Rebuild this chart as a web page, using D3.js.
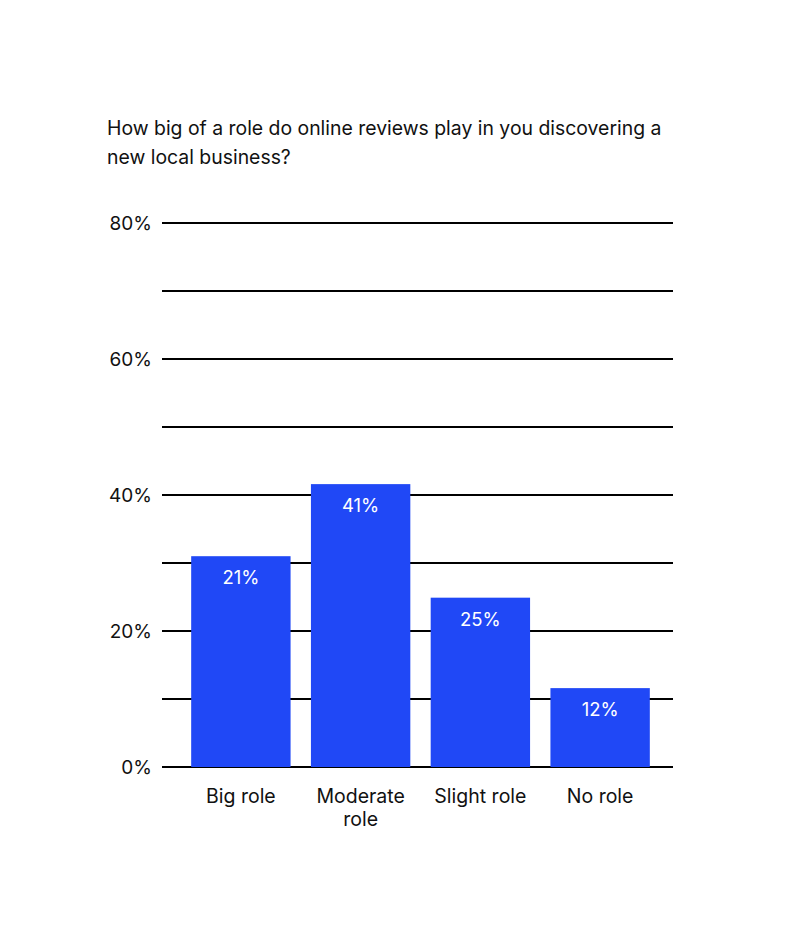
<!DOCTYPE html>
<html>
<head>
<meta charset="utf-8">
<script src="https://cdn.jsdelivr.net/npm/d3@7"></script>
<style>
  body { margin: 0; background: #fff; }
  svg text { font-family: Inter, "Noto Sans", sans-serif; }
</style>
</head>
<body>
<div id="chart"></div>
<script>
const titleLines = ["How big of a role do online reviews play in you discovering a", "new local business?"];
const categories = [["Big role"], ["Moderate", "role"], ["Slight role"], ["No role"]];
const values = [31, 41.6, 24.9, 11.6];
const valueLabels = ["21%", "41%", "25%", "12%"];
const gridTicks = [0, 10, 20, 30, 40, 50, 60, 70, 80];
const tickLabels = ["0%", "20%", "40%", "60%", "80%"];

const width = 788, height = 940;
const svg = d3.select("#chart").append("svg")
    .attr("width", width)
    .attr("height", height);

// title
svg.append("text")
    .attr("x", 107)
    .attr("y", 135)
    .attr("font-size", 19.4)
    .attr("fill", "#111")
    .selectAll("tspan")
    .data(titleLines)
    .enter()
    .append("tspan")
        .attr("x", 107)
        .attr("dy", (d, i) => i ? 29 : 0)
        .text(d => d);

const y = d3.scaleLinear().domain([0, 80]).range([767, 223]);
const x = d3.scaleBand()
    .domain(categories.map(d => d.join(" ")))
    .range([181, 660])
    .paddingInner(0.17)
    .paddingOuter(0.085);

// grid lines
svg.append("g")
    .selectAll("line")
    .data(gridTicks)
    .enter()
    .append("line")
        .attr("x1", 162)
        .attr("x2", 673)
        .attr("y1", d => y(d))
        .attr("y2", d => y(d))
        .attr("stroke", "#000")
        .attr("stroke-width", 2);

// y labels
svg.append("g")
    .selectAll("text")
    .data(tickLabels)
    .enter()
    .append("text")
        .attr("x", 152)
        .attr("y", d => y(parseFloat(d)) + 7)
        .attr("text-anchor", "end")
        .attr("font-size", 19)
        .attr("fill", "#111")
        .text(d => d);

// bars
const bars = svg.append("g")
    .selectAll("g")
    .data(values)
    .enter()
    .append("g");

bars.append("rect")
    .attr("x", (d, i) => x(categories[i].join(" ")))
    .attr("y", d => y(d))
    .attr("width", x.bandwidth())
    .attr("height", d => y(0) - y(d))
    .attr("fill", "#2048f6");

bars.append("text")
    .attr("x", (d, i) => x(categories[i].join(" ")) + x.bandwidth() / 2)
    .attr("y", d => y(d) + 28)
    .attr("text-anchor", "middle")
    .attr("font-size", 18.5)
    .attr("fill", "#fff")
    .text((d, i) => valueLabels[i]);

// category labels
svg.append("g")
    .selectAll("text")
    .data(categories)
    .enter()
    .append("text")
        .attr("text-anchor", "middle")
        .attr("font-size", 19.5)
        .attr("fill", "#111")
        .attr("y", 803)
        .selectAll("tspan")
        .data(d => d.map(t => ({t: t, key: d.join(" ")})))
        .enter()
        .append("tspan")
            .attr("x", d => x(d.key) + x.bandwidth() / 2)
            .attr("dy", (d, i) => i ? 23 : 0)
            .text(d => d.t);
</script>
</body>
</html>
